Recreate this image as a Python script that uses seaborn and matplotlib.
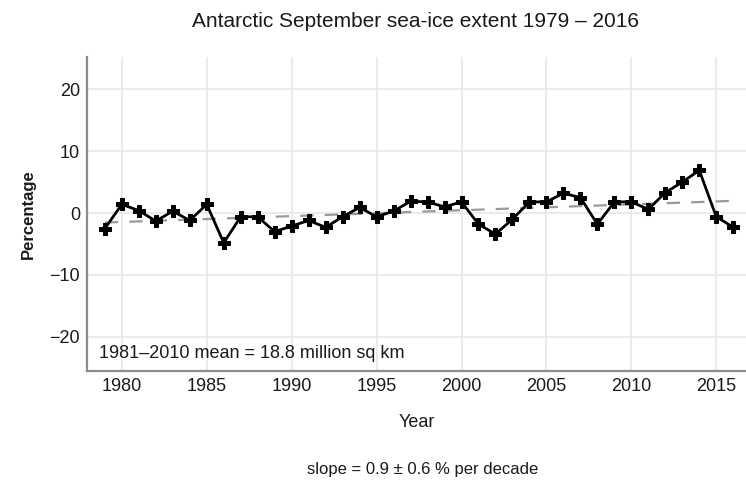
import matplotlib
matplotlib.use("Agg")
from matplotlib import pyplot as plt
import seaborn as sns
import pandas as pd

# Antarctic September sea-ice extent anomaly (% of 1981-2010 mean)
YEARS = list(range(1979, 2017))
ANOMALY = [-2.5, 1.4, 0.4, -1.3, 0.3, -1.2, 1.4, -4.8, -0.6, -0.6,
           -3.0, -2.1, -1.2, -2.3, -0.6, 0.9, -0.6, 0.3, 1.9, 1.8,
           1.0, 1.8, -1.8, -3.4, -1.0, 1.8, 1.8, 3.2, 2.5, -1.8,
           1.8, 1.8, 0.6, 3.3, 5.0, 6.9, -0.6, -2.3]
X_TICKS = [1980, 1985, 1990, 1995, 2000, 2005, 2010, 2015]
Y_TICKS = [-20, -10, 0, 10, 20]
TITLE = "Antarctic September sea-ice extent 1979 \u2013 2016"
NOTE = "1981\u20132010 mean = 18.8 million sq km"
FOOT = "slope = 0.9 \u00b1 0.6 % per decade"

df = pd.DataFrame({"Year": YEARS, "Percentage": ANOMALY})

sns.set_theme(style="whitegrid")
plt.rcParams["font.family"] = ["Liberation Sans", "DejaVu Sans"]
plt.rcParams["text.color"] = "#1a1a1a"

fig = plt.figure(figsize=(7.46, 4.83), dpi=100)
ax = fig.add_axes([0.1166, 0.232, 0.8834, 0.650])

# trend line
sns.regplot(data=df, x="Year", y="Percentage", scatter=False, ci=None, ax=ax,
            line_kws={"color": "#9a9a9a", "lw": 1.6, "dashes": (6, 5)})
# series
sns.lineplot(data=df, x="Year", y="Percentage", ax=ax, color="black", lw=2,
             marker="P", markersize=8.5, markeredgecolor="black")

ax.set_xlim(1977.95, 2016.75)
ax.set_ylim(-25.5, 25.2)
ax.set_xticks(X_TICKS)
ax.set_yticks(Y_TICKS)
ax.set_yticklabels(["\u221220", "\u221210", "0", "10", "20"])
ax.tick_params(labelsize=13, colors="#1a1a1a", length=0, pad=5)
ax.grid(color="#e8e8e8", lw=1.2)
for s in ["top", "right"]:
    ax.spines[s].set_visible(False)
for s in ["left", "bottom"]:
    ax.spines[s].set_color("#8c8c8c")
    ax.spines[s].set_linewidth(1.6)

ax.set_xlabel("Year", fontsize=13, color="#1a1a1a", labelpad=14)
ax.set_ylabel("Percentage", fontsize=12, fontweight="bold", color="#1a1a1a", labelpad=10)
ax.text(0.018, 0.057, NOTE, transform=ax.transAxes, fontsize=13, va="center", ha="left")

fig.text(0.557, 0.955, TITLE, fontsize=15, ha="center", va="center")
fig.text(0.566, 0.027, FOOT, fontsize=12, ha="center", va="center")

fig.savefig("out.png", dpi=100)
